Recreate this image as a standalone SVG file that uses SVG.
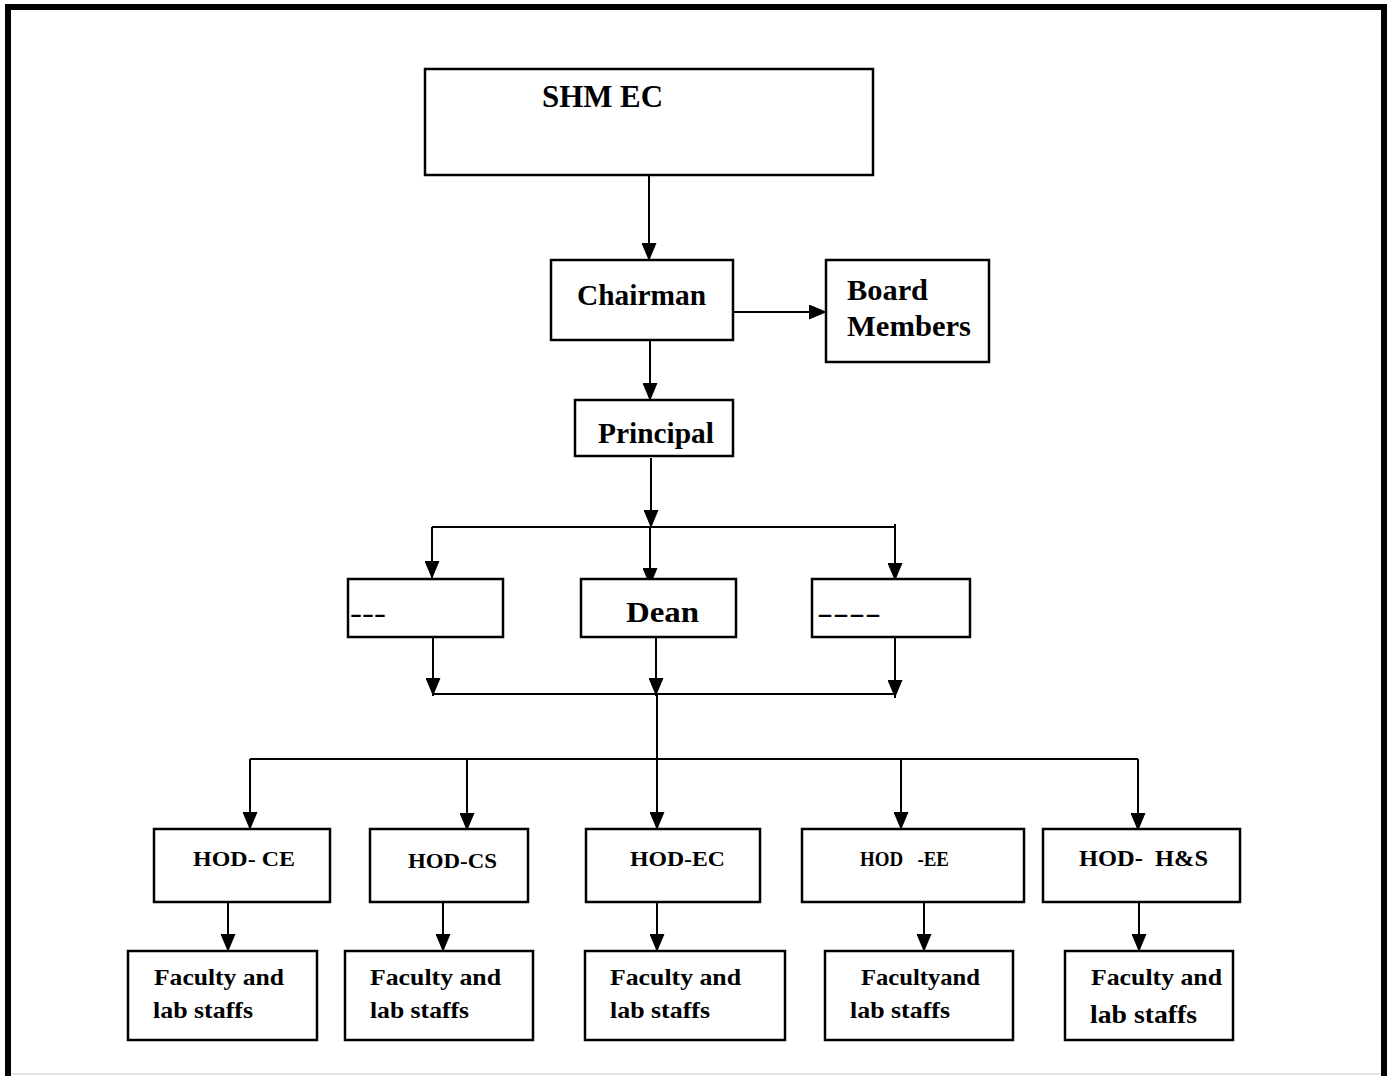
<svg xmlns="http://www.w3.org/2000/svg" width="1390" height="1076" viewBox="0 0 1390 1076">
<defs>
<marker id="ah" viewBox="0 0 18 15" refX="18" refY="7.5" markerWidth="18" markerHeight="15" markerUnits="userSpaceOnUse" orient="auto">
<path d="M0,0 L18,7.5 L0,15 z" fill="#000"/>
</marker>
<style>
.box{fill:#fff;stroke:#000;stroke-width:2.5}
.t{font-family:"Liberation Serif","Times New Roman",serif;font-weight:bold;fill:#000}
.c{fill:none;stroke:#000;stroke-width:2}
.a{fill:none;stroke:#000;stroke-width:2;marker-end:url(#ah)}
</style>
</defs>
<rect x="0" y="0" width="1390" height="1076" fill="#fff"/>
<path d="M8,1076 V7 H1384 V1076" fill="none" stroke="#000" stroke-width="6"/>
<line x1="11" y1="1074" x2="1381" y2="1074" stroke="#e6e6e6" stroke-width="2"/>

<g id="connectors">
<path class="a" d="M649,175 V261"/>
<path class="a" d="M731,312 H827"/>
<path class="a" d="M650,341 V401"/>
<path class="a" d="M651,458 V528"/>
<path class="c" d="M432,527 H896"/>
<path class="a" d="M432,527 V579"/>
<path class="a" d="M650,527 V586"/>
<path class="a" d="M895,524 V581"/>
<path class="a" d="M433,637 V696"/>
<path class="a" d="M656,637 V696"/>
<path class="a" d="M895,637 V698"/>
<path class="c" d="M433,694 H896"/>
<path class="a" d="M657,694 V830"/>
<path class="c" d="M250,759 H1138"/>
<path class="a" d="M250,759 V830"/>
<path class="a" d="M467,759 V831"/>
<path class="a" d="M901,759 V830"/>
<path class="a" d="M1138,759 V831"/>
<path class="a" d="M228,902 V952"/>
<path class="a" d="M443,902 V952"/>
<path class="a" d="M657,902 V952"/>
<path class="a" d="M924,902 V952"/>
<path class="a" d="M1139,902 V952"/>
</g>

<g id="shmec">
<rect class="box" x="425" y="69" width="448" height="106" stroke-width="2"/>
<text class="t" x="542" y="107" font-size="31" textLength="121" lengthAdjust="spacingAndGlyphs">SHM EC</text>
</g>
<g id="chairman">
<rect class="box" x="551" y="260" width="182" height="80"/>
<text class="t" x="577" y="305" font-size="29" textLength="129" lengthAdjust="spacingAndGlyphs">Chairman</text>
</g>
<g id="board">
<rect class="box" x="826" y="260" width="163" height="102"/>
<text class="t" x="847" y="300" font-size="30" textLength="81" lengthAdjust="spacingAndGlyphs">Board</text>
<text class="t" x="847" y="336" font-size="30" textLength="124" lengthAdjust="spacingAndGlyphs">Members</text>
</g>
<g id="principal">
<rect class="box" x="575" y="400" width="158" height="56"/>
<text class="t" x="598" y="443" font-size="29" textLength="116" lengthAdjust="spacingAndGlyphs">Principal</text>
</g>
<g id="left-unit">
<rect class="box" x="348" y="579" width="155" height="58"/>
<text class="t" x="350" y="622" font-size="26" textLength="36" lengthAdjust="spacingAndGlyphs">---</text>
</g>
<g id="dean">
<rect class="box" x="581" y="579" width="155" height="58"/>
<text class="t" x="626" y="622" font-size="30" textLength="73" lengthAdjust="spacingAndGlyphs">Dean</text>
</g>
<g id="right-unit">
<rect class="box" x="812" y="579" width="158" height="58"/>
<text class="t" x="817" y="622" font-size="26" textLength="64" lengthAdjust="spacingAndGlyphs">----</text>
</g>

<g id="hod-ce">
<rect class="box" x="154" y="829" width="176" height="73"/>
<text class="t" x="193" y="866" font-size="22" textLength="102" lengthAdjust="spacingAndGlyphs">HOD- CE</text>
</g>
<g id="hod-cs">
<rect class="box" x="370" y="829" width="158" height="73"/>
<text class="t" x="408" y="868" font-size="21" textLength="89" lengthAdjust="spacingAndGlyphs">HOD-CS</text>
</g>
<g id="hod-ec">
<rect class="box" x="586" y="829" width="174" height="73"/>
<text class="t" x="630" y="866" font-size="22" textLength="95" lengthAdjust="spacingAndGlyphs">HOD-EC</text>
</g>
<g id="hod-ee">
<rect class="box" x="802" y="829" width="222" height="73"/>
<text class="t" x="860" y="866" font-size="21" textLength="89" lengthAdjust="spacingAndGlyphs" xml:space="preserve">HOD   -EE</text>
</g>
<g id="hod-hs">
<rect class="box" x="1043" y="829" width="197" height="73"/>
<text class="t" x="1079" y="866" font-size="23" textLength="129" lengthAdjust="spacingAndGlyphs" xml:space="preserve">HOD-  H&amp;S</text>
</g>

<g id="fac-ce">
<rect class="box" x="128" y="951" width="189" height="89"/>
<text class="t" x="154" y="985" font-size="24" textLength="130" lengthAdjust="spacingAndGlyphs">Faculty  and</text>
<text class="t" x="153" y="1018" font-size="24" textLength="100" lengthAdjust="spacingAndGlyphs">lab staffs</text>
</g>
<g id="fac-cs">
<rect class="box" x="345" y="951" width="188" height="89"/>
<text class="t" x="370" y="985" font-size="24" textLength="131" lengthAdjust="spacingAndGlyphs">Faculty  and</text>
<text class="t" x="370" y="1018" font-size="24" textLength="99" lengthAdjust="spacingAndGlyphs">lab staffs</text>
</g>
<g id="fac-ec">
<rect class="box" x="585" y="951" width="200" height="89"/>
<text class="t" x="610" y="985" font-size="24" textLength="131" lengthAdjust="spacingAndGlyphs">Faculty  and</text>
<text class="t" x="610" y="1018" font-size="24" textLength="100" lengthAdjust="spacingAndGlyphs">lab staffs</text>
</g>
<g id="fac-ee">
<rect class="box" x="825" y="951" width="188" height="89"/>
<text class="t" x="861" y="985" font-size="24" textLength="119" lengthAdjust="spacingAndGlyphs">Facultyand</text>
<text class="t" x="850" y="1018" font-size="24" textLength="100" lengthAdjust="spacingAndGlyphs">lab staffs</text>
</g>
<g id="fac-hs">
<rect class="box" x="1065" y="951" width="168" height="89"/>
<text class="t" x="1091" y="985" font-size="24" textLength="131" lengthAdjust="spacingAndGlyphs">Faculty  and</text>
<text class="t" x="1090" y="1023" font-size="25" textLength="107" lengthAdjust="spacingAndGlyphs">lab staffs</text>
</g>
</svg>
